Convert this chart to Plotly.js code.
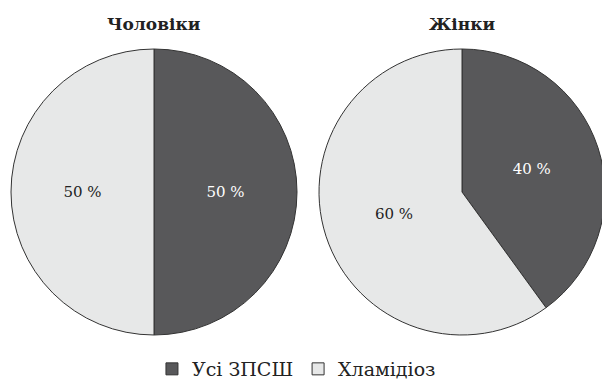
<!DOCTYPE html>
<html><head><meta charset="utf-8">
<script src="https://cdn.plot.ly/plotly-3.0.1.min.js"></script>
<style>html,body{margin:0;padding:0;overflow:hidden;width:602px;height:385px;background:#fff}</style>
</head><body><div id="chart" style="width:610px;height:388px"></div>
<script>
const categories = ["Усі ЗПСШ", "Хламідіоз"];
const menValues = [50, 50];
const womenValues = [40, 60];
const groupTitles = ["Чоловіки", "Жінки"];
const colors = ["#58585a", "#e7e8e8"];

const SERIF = "DejaVu Serif";
const W = 610, H = 388;
function dom(cx, cy, r) {
  return {x: [(cx - r) / W, (cx + r) / W], y: [(H - cy - r) / H, (H - cy + r) / H]};
}
function pie(values, d, showlegend) {
  return {
    type: "pie", labels: categories, values: values, sort: false, direction: "clockwise",
    rotation: 0, domain: d, showlegend: showlegend,
    marker: {colors: colors, line: {color: "#333333", width: 1}},
    texttemplate: "%{value} %", textposition: "inside", hoverinfo: "none",
    textfont: {family: SERIF, size: 15, color: ["#ffffff", "#222222"]},
    insidetextfont: {family: SERIF, size: 15, color: ["#ffffff", "#222222"]},
    insidetextorientation: "horizontal"
  };
}
const d1 = dom(154, 192, 143), d2 = dom(462, 192, 143);
const data = [pie(menValues, d1, true), pie(womenValues, d2, false)];
const layout = {
  width: W, height: H, margin: {l: 0, r: 0, t: 0, b: 0},
  paper_bgcolor: "#fff", plot_bgcolor: "#fff",
  font: {family: SERIF, size: 16, color: "#222"},
  legend: {orientation: "h", x: 0.486, xanchor: "center", y: 0, yanchor: "bottom",
           font: {family: SERIF, size: 19, color: "#222"}, itemwidth: 30},
  annotations: [
    {text: "<b>" + groupTitles[0] + "</b>", x: (d1.x[0] + d1.x[1]) / 2, y: 1 - 24 / H, xref: "paper", yref: "paper",
     xanchor: "center", yanchor: "middle",
     showarrow: false, font: {family: SERIF, size: 17, color: "#222"}},
    {text: "<b>" + groupTitles[1] + "</b>", x: (d2.x[0] + d2.x[1]) / 2, y: 1 - 24 / H, xref: "paper", yref: "paper",
     xanchor: "center", yanchor: "middle",
     showarrow: false, font: {family: SERIF, size: 17, color: "#222"}}
  ]
};
Plotly.newPlot("chart", data, layout, {staticPlot: true});
</script></body></html>
